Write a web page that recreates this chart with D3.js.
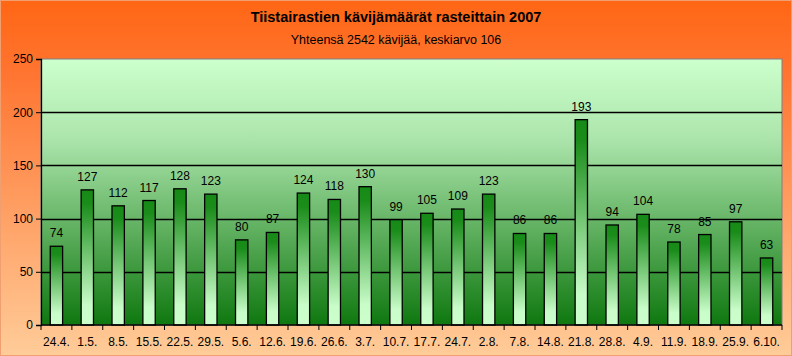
<!DOCTYPE html>
<html><head><meta charset="utf-8">
<script src="https://cdn.jsdelivr.net/npm/d3@7"></script>
<style>body{margin:0;overflow:hidden}svg{display:block}</style>
</head><body>
<script>
const categories = ["24.4.","1.5.","8.5.","15.5.","22.5.","29.5.","5.6.","12.6.","19.6.","26.6.","3.7.","10.7.","17.7.","24.7.","2.8.","7.8.","14.8.","21.8.","28.8.","4.9.","11.9.","18.9.","25.9.","6.10."];
const visitors = [74,127,112,117,128,123,80,87,124,118,130,99,105,109,123,86,86,193,94,104,78,85,97,63];
const yTicks = [0,50,100,150,200,250];
const title = "Tiistairastien kävijämäärät rasteittain 2007";
const subtitle = "Yhteensä 2542 kävijää, keskiarvo 106";

const W = 792, H = 356;
const m = {left: 41, right: 10, top: 59, bottom: 31};
const svg = d3.select("body").append("svg").attr("width", W).attr("height", H);
const defs = svg.append("defs");

const bg = defs.append("linearGradient").attr("id","bg").attr("x1",0).attr("y1",0).attr("x2",0).attr("y2",1);
bg.append("stop").attr("offset","0").attr("stop-color","#ff6614");
bg.append("stop").attr("offset","0.2").attr("stop-color","#ff7430");
bg.append("stop").attr("offset","1").attr("stop-color","#ffcc99");

const pg = defs.append("linearGradient").attr("id","pg").attr("x1",0).attr("y1",0).attr("x2",0).attr("y2",1);
pg.append("stop").attr("offset","0").attr("stop-color","#ccffcc");
pg.append("stop").attr("offset","0.3").attr("stop-color","#ace5ac");
pg.append("stop").attr("offset","1").attr("stop-color","#0f780f");

const bgr = defs.append("linearGradient").attr("id","bar").attr("x1",0).attr("y1",0).attr("x2",0).attr("y2",1);
bgr.append("stop").attr("offset","0").attr("stop-color","#168a16");
bgr.append("stop").attr("offset","0.1").attr("stop-color","#1a8c1a");
bgr.append("stop").attr("offset","0.85").attr("stop-color","#c8fcc8");
bgr.append("stop").attr("offset","1").attr("stop-color","#ccffcc");

svg.append("rect").attr("width",W).attr("height",H).attr("fill","url(#bg)");
svg.append("rect").attr("x",0.5).attr("y",0.5).attr("width",W-1).attr("height",H-1).attr("fill","none").attr("stroke","#f0a070");

const x = d3.scaleBand().domain(categories).range([m.left, W - m.right]).paddingInner(0.6).paddingOuter(0.3);
const xb = d3.scaleBand().domain(categories).range([m.left, W - m.right]);
const y = d3.scaleLinear().domain([0,250]).range([H - m.bottom, m.top]);

svg.append("rect").attr("x",m.left).attr("y",m.top).attr("width",W-m.left-m.right).attr("height",H-m.top-m.bottom)
  .attr("fill","url(#pg)").attr("stroke","#808080").attr("stroke-width",1);

svg.append("g").selectAll("line").data(yTicks.filter(d=>d>0 && d<250)).join("line")
  .attr("x1",m.left).attr("x2",W-m.right).attr("y1",d=>Math.round(y(d))+0.5).attr("y2",d=>Math.round(y(d))+0.5)
  .attr("stroke","#000").attr("stroke-width",1.3);

svg.append("g").selectAll("rect").data(visitors).join("rect")
  .attr("x",(d,i)=>x(categories[i])).attr("width",x.bandwidth())
  .attr("y",d=>y(d)).attr("height",d=>y(0)-y(d))
  .attr("fill","url(#bar)").attr("stroke","#000").attr("stroke-width",1.3);

svg.append("g").selectAll("text").data(visitors).join("text")
  .attr("x",(d,i)=>x(categories[i])+x.bandwidth()/2).attr("y",d=>y(d)-9)
  .attr("text-anchor","middle").attr("font-family","Liberation Sans, Arial, sans-serif").attr("font-size",12)
  .attr("fill","#000").text(d=>d);

const yAxis = svg.append("g").attr("transform",`translate(${m.left},0)`)
  .call(d3.axisLeft(y).tickValues(yTicks).tickSize(5).tickPadding(3));
yAxis.select(".domain").attr("stroke","#000").attr("stroke-width",1.3);
yAxis.selectAll("text").attr("font-family","Liberation Sans, Arial, sans-serif").attr("font-size",12).attr("fill","#000");

const xAxis = svg.append("g").attr("transform",`translate(0,${H-m.bottom})`);
xAxis.append("line").attr("x1",m.left).attr("x2",W-m.right).attr("stroke","#000").attr("stroke-width",1.3);
xAxis.selectAll("line.t").data(d3.range(categories.length+1)).join("line").attr("class","t")
  .attr("x1",i=>m.left + i*xb.bandwidth()).attr("x2",i=>m.left + i*xb.bandwidth()).attr("y1",0).attr("y2",5)
  .attr("stroke","#000").attr("stroke-width",1);
xAxis.selectAll("text").data(categories).join("text")
  .attr("x",d=>xb(d)+xb.bandwidth()/2).attr("y",21).attr("text-anchor","middle")
  .attr("font-family","Liberation Sans, Arial, sans-serif").attr("font-size",12).attr("fill","#000").text(d=>d);

svg.append("text").attr("x",396).attr("y",22).attr("text-anchor","middle")
  .attr("font-family","Liberation Sans, Arial, sans-serif").attr("font-size",14.5).attr("font-weight","bold").text(title);
svg.append("text").attr("x",396).attr("y",44).attr("text-anchor","middle")
  .attr("font-family","Liberation Sans, Arial, sans-serif").attr("font-size",12.5).text(subtitle);
</script>
</body></html>
